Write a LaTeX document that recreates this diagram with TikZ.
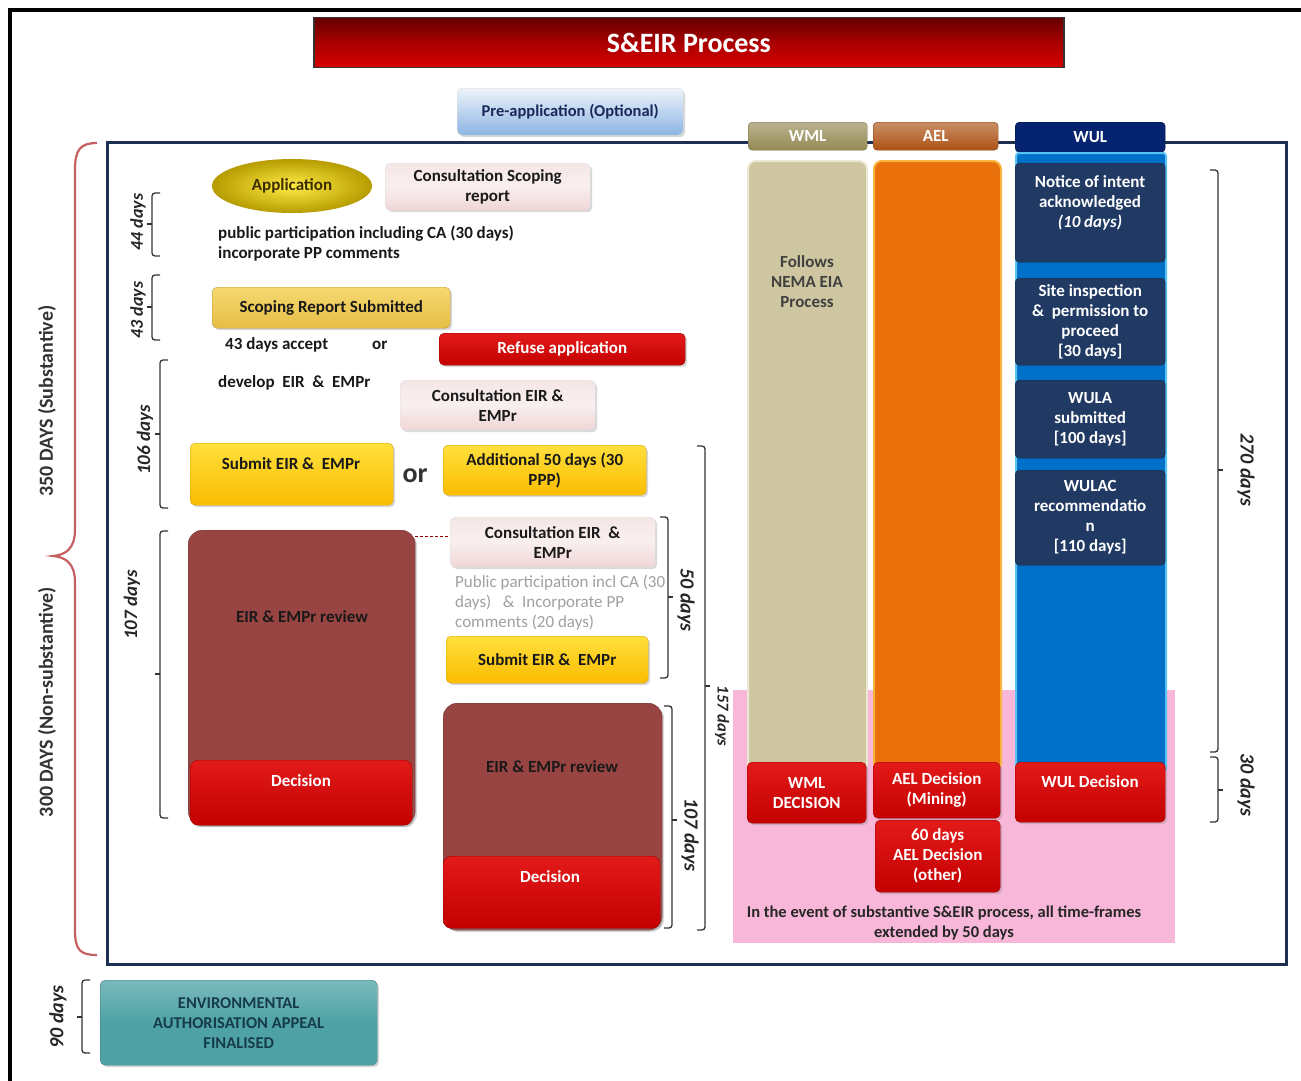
\documentclass[tikz,border=0pt]{standalone}
\usepackage{fontspec}
\setmainfont{Carlito}
\usetikzlibrary{shadows,shapes.geometric}
\definecolor{framec}{RGB}{30,48,80}
\definecolor{bracec}{RGB}{196,96,96}
\definecolor{pinkc}{RGB}{240,214,214}
\definecolor{goldl}{RGB}{255,224,60}
\definecolor{goldc}{RGB}{250,188,0}
\definecolor{scopel}{RGB}{246,216,112}
\definecolor{scopec}{RGB}{230,190,70}
\definecolor{redl}{RGB}{226,26,26}
\definecolor{redc}{RGB}{196,0,0}
\definecolor{brownc}{RGB}{152,68,66}
\definecolor{titd}{RGB}{100,0,0}
\definecolor{titm}{RGB}{170,0,0}
\definecolor{titr}{RGB}{215,0,0}
\definecolor{prebc}{RGB}{140,180,226}
\definecolor{navytc}{RGB}{25,40,90}
\definecolor{wmlhc}{RGB}{148,138,84}
\definecolor{wmlbc}{RGB}{206,198,160}
\definecolor{wmllc}{RGB}{236,232,212}
\definecolor{aelhc}{RGB}{172,82,20}
\definecolor{aelbc}{RGB}{234,112,12}
\definecolor{aellc}{RGB}{248,180,60}
\definecolor{wulhc}{RGB}{5,35,110}
\definecolor{wulbc}{RGB}{0,112,200}
\definecolor{wullc}{RGB}{90,195,245}
\definecolor{wulboxc}{RGB}{32,58,100}
\definecolor{pinkareac}{RGB}{248,182,216}
\definecolor{tealc}{RGB}{78,162,165}
\definecolor{tealtc}{RGB}{22,60,75}
\definecolor{greytc}{RGB}{160,160,160}
\definecolor{appic}{RGB}{255,236,70}
\definecolor{appoc}{RGB}{182,156,0}
\definecolor{apptc}{RGB}{60,45,0}
\newcommand\ftx{\fontsize{17}{20}\selectfont\bfseries}
\newcommand\ftitle{\fontsize{28}{30}\selectfont\bfseries}
\newcommand\fday{\fontsize{20}{22}\selectfont\bfseries\itshape}
\newcommand\fdaymd{\fontsize{19}{22}\selectfont\bfseries\itshape}
\newcommand\fdayss{\fontsize{18}{20}\selectfont\bfseries\itshape}
\newcommand\fdaysm{\fontsize{16.5}{18}\selectfont\bfseries\itshape}
\newcommand\fside{\fontsize{20}{22}\selectfont\bfseries}
\newcommand\fbig{\fontsize{28}{30}\selectfont\bfseries}
\newcommand\fgrey{\fontsize{17}{20}\selectfont}
\newcommand\fsmall{\fontsize{16.5}{20}\selectfont\bfseries}
\newcommand\myLbr[4]{\draw[brk] (#1+8,#2) -- (#1,#2) -- (#1,#4) -- (#1+8,#4); \draw[brk] (#1,#3) -- (#1-5,#3);}
\newcommand\myRbr[4]{\draw[brk] (#1-8,#2) -- (#1,#2) -- (#1,#4) -- (#1-8,#4); \draw[brk] (#1,#3) -- (#1+5,#3);}
\begin{document}
\begin{tikzpicture}[x=1pt,y=-1pt,
  every node/.style={font=\ftx},
  base/.style={rounded corners=5pt, align=center, inner sep=2pt, anchor=north west, text=black!90},
  soft/.style={drop shadow={opacity=0.3, shadow xshift=2pt, shadow yshift=-2pt}},
  pinkbox/.style={base, soft, top color=pinkc!60!white, bottom color=pinkc, middle color=pinkc!40!white, draw=black!12},
  goldbox/.style={base, soft, top color=goldl, bottom color=goldc, draw=goldc!85!black},
  redbox/.style={base, soft, top color=redl, bottom color=redc, text=white, draw=redc!80!black},
  brownbox/.style={base, soft, fill=brownc, rounded corners=14pt, draw=brownc!80!black},
  wulbox/.style={base, fill=wulboxc, text=white, rounded corners=4pt, draw=wulboxc!70!black},
  hdr/.style={base, text=white, rounded corners=4pt},
  txt/.style={inner sep=0pt, align=left, text=black!90},
  lbl/.style={inner sep=0pt, align=center, text=black!90},
  daylbl/.style={inner sep=0pt, font=\fday, text=black!85},
  brk/.style={line width=1.3pt, draw=black!80, rounded corners=3pt},
  dashline/.style={draw=red!60!black, line width=1.3pt, dash pattern=on 3pt off 2pt},
]
\useasboundingbox (0,0) rectangle (1301,1081);
\fill[white] (0,0) rectangle (1301,1081);
% outer border
\draw[line width=4pt, black] (10,1081) -- (10,10) -- (1301,10);
% title
\node[base, minimum width=750pt, minimum height=50pt, rounded corners=0pt, top color=titd, bottom color=titr, middle color=titm, draw=black!80, line width=1.5pt, text=white, font=\ftitle] (title) at (313,17) {S\&EIR Process};
\node[base, soft, minimum width=226pt, minimum height=47pt, top color=white!85!prebc, bottom color=prebc, draw=black!15, text=navytc, font=\fsmall] (preapp) at (457,88) {Pre-application (Optional)};
% main frame
\node[anchor=north west, draw=framec, line width=2.5pt, minimum width=1179pt, minimum height=822pt, inner sep=0pt] (frame) at (106,141) {};
% pink zone
\node[anchor=north west, fill=pinkareac, minimum width=442pt, minimum height=253pt, inner sep=0pt] (pinkzone) at (733,690) {};
\node[lbl, font=\fsmall, text=black!85] (pinktext) at (944,923) {In the event of substantive S\&EIR process, all time-frames\\extended by 50 days};
% WML column
\node[hdr, minimum width=119pt, minimum height=28pt, top color=wmlhc!65!white, bottom color=wmlhc, draw=wmlhc!80!black] (wmlh) at (748,122) {WML};
\node[base, minimum width=119pt, minimum height=610pt, fill=wmlbc, draw=wmllc, line width=2pt, rounded corners=8pt] (wmlbody) at (747,160) {};
\node[lbl, text=black!75] (wmltext) at (807,282) {Follows\\NEMA EIA\\Process};
\node[redbox, minimum width=119pt, minimum height=61pt] (wmldec) at (747,762) {WML\\DECISION};
% AEL column
\node[hdr, minimum width=125pt, minimum height=28pt, top color=aelhc!65!white, bottom color=aelhc, draw=aelhc!80!black] (aelh) at (873,122) {AEL};
\node[base, minimum width=127pt, minimum height=610pt, fill=aelbc, draw=aellc, line width=2pt, rounded corners=8pt] (aelbody) at (873,160) {};
\node[redbox, minimum width=127pt, minimum height=56pt] (aeldec1) at (873,762) {AEL Decision\\(Mining)};
\node[redbox, minimum width=125pt, minimum height=72pt] (aeldec2) at (875,820) {60 days\\AEL Decision\\(other)};
% WUL column
\node[hdr, minimum width=150pt, minimum height=30pt, fill=wulhc, draw=wulhc!70!black] (wulh) at (1015,122) {WUL};
\node[base, minimum width=150pt, minimum height=618pt, fill=wulbc, draw=wullc, line width=2pt, rounded corners=3pt] (wulbody) at (1015,152) {};
\node[wulbox, minimum width=150pt, minimum height=99pt] (wul1) at (1015,163) {};
\node[lbl, text=white] (wul1t) at (1090,203) {Notice of intent\\acknowledged\\\textit{(10 days)}};
\node[wulbox, minimum width=150pt, minimum height=87pt] (wul2) at (1015,278) {Site inspection\\\&\ \ permission to\\proceed\\{[}30 days{]}};
\node[wulbox, minimum width=150pt, minimum height=78pt] (wul3) at (1015,380) {WULA\\submitted\\{[}100 days{]}};
\node[wulbox, minimum width=150pt, minimum height=95pt] (wul4) at (1015,470) {WULAC\\recommendatio\\n\\{[}110 days{]}};
\node[redbox, minimum width=150pt, minimum height=60pt] (wuldec) at (1015,762) {};
\node[lbl, text=white] (wuldect) at (1090,782) {WUL Decision};
% left flow
\node[ellipse, minimum width=160pt, minimum height=54pt, inner color=appic, outer color=appoc, text=apptc] (app) at (292,186) {Application};
\node[pinkbox, minimum width=205pt, minimum height=47pt] (cons1) at (385,163) {Consultation Scoping\\report};
\node[txt, anchor=west] (pp1) at (218,234) {public participation including CA (30 days)};
\node[txt, anchor=west] (pp2) at (218,254) {incorporate PP comments};
\node[base, soft, minimum width=238pt, minimum height=41pt, top color=scopel, bottom color=scopec, draw=scopec!80!black] (scope) at (212,287) {Scoping Report Submitted};
\node[txt, anchor=west] (accept) at (225,345) {43 days accept};
\node[txt, anchor=west] (or1) at (372,345) {or};
\node[redbox, minimum width=246pt, minimum height=32pt] (refuse) at (439,333) {Refuse application};
\node[txt, anchor=west] (develop) at (218,383) {develop\ \ EIR\ \ \&\ \ EMPr};
\node[pinkbox, minimum width=195pt, minimum height=50pt] (cons2) at (400,380) {Consultation EIR \&\\EMPr};
\node[goldbox, minimum width=203pt, minimum height=62pt] (submit1) at (190,443) {};
\node[lbl] (submit1t) at (291,464) {Submit EIR \&\ \ EMPr};
\node[lbl, font=\fbig, text=black!80] (or2) at (415,476) {or};
\node[goldbox, minimum width=203pt, minimum height=50pt] (add50) at (443,445) {Additional 50 days (30\\PPP)};
\node[brownbox, minimum width=227pt, minimum height=295pt] (rev1) at (188,530) {};
\node[lbl] (rev1t) at (302,617) {EIR \& EMPr review};
\node[redbox, minimum width=222pt, minimum height=65pt, rounded corners=8pt] (dec1) at (190,760) {};
\node[lbl, text=white] (dec1t) at (301,781) {Decision};
\node[pinkbox, minimum width=205pt, minimum height=50pt] (cons3) at (450,517) {Consultation EIR\ \ \&\\EMPr};
\path ([yshift=6pt]cons3.west) coordinate (c3w);
\draw[dashline] (rev1.east |- c3w) -- (c3w);
\node[txt, anchor=west, font=\fgrey, text=greytc] (g1) at (455,583) {Public participation incl CA (30};
\node[txt, anchor=west, font=\fgrey, text=greytc] (g2) at (455,603) {days)\ \ \ \&\ \ Incorporate PP};
\node[txt, anchor=west, font=\fgrey, text=greytc] (g3) at (455,623) {comments (20 days)};
\node[goldbox, minimum width=202pt, minimum height=47pt] (submit2) at (446,636) {Submit EIR \&\ \ EMPr};
\node[brownbox, minimum width=219pt, minimum height=227pt] (rev2) at (443,703) {};
\node[lbl] (rev2t) at (552,767) {EIR \& EMPr review};
\node[redbox, minimum width=217pt, minimum height=72pt, rounded corners=8pt] (dec2) at (443,856) {};
\node[lbl, text=white] (dec2t) at (550,877) {Decision};
% appeal
\node[base, soft, minimum width=277pt, minimum height=85pt, top color=tealc!75!white, bottom color=tealc, middle color=tealc, draw=tealc!80!black, text=tealtc, font=\fsmall] (appeal) at (100,980) {ENVIRONMENTAL\\AUTHORISATION APPEAL\\FINALISED};
% big brace
\draw[bracec, line width=2.2pt] (97,143) .. controls (80,143) and (75,150) .. (75,170) -- (75,530) .. controls (75,548) and (66,555) .. (53,556) .. controls (66,557) and (75,564) .. (75,582) -- (75,930) .. controls (75,950) and (80,955) .. (97,955);
\node[lbl, rotate=90, font=\fside, text=black!80] (s350) at (47,401) {350 DAYS (Substantive)};
\node[lbl, rotate=90, font=\fside, text=black!80] (s300) at (47,702) {300 DAYS (Non-substantive)};
% day brackets
\myLbr{152}{193}{224}{256}
\node[daylbl, rotate=90, font=\fdayss] (d44) at (138,222) {44 days};
\myLbr{152}{275}{307}{340}
\node[daylbl, rotate=90, font=\fdayss] (d43) at (138,310) {43 days};
\myLbr{160}{360}{434}{508}
\node[daylbl, rotate=90, font=\fdaymd] (d106) at (145,440) {106 days};
\myLbr{160}{531}{674}{818}
\node[daylbl, rotate=90, font=\fdaymd] (d107) at (132,605) {107 days};
\myRbr{668}{517}{597}{678}
\node[daylbl, rotate=-90] (d50) at (686,600) {50 days};
\myRbr{705}{446}{686}{930}
\node[daylbl, rotate=-90, font=\fdaysm] (d157) at (722,716) {157 days};
\myRbr{672}{706}{820}{928}
\node[daylbl, rotate=-90] (d107b) at (690,835) {107 days};
\myRbr{1218}{170}{470}{752}
\node[daylbl, rotate=-90] (d270) at (1246,470) {270 days};
\myRbr{1218}{757}{790}{822}
\node[daylbl, rotate=-90] (d30) at (1246,785) {30 days};
\myLbr{82}{980}{1017}{1053}
\node[daylbl, rotate=90] (d90) at (58,1017) {90 days};
\end{tikzpicture}
\end{document}
